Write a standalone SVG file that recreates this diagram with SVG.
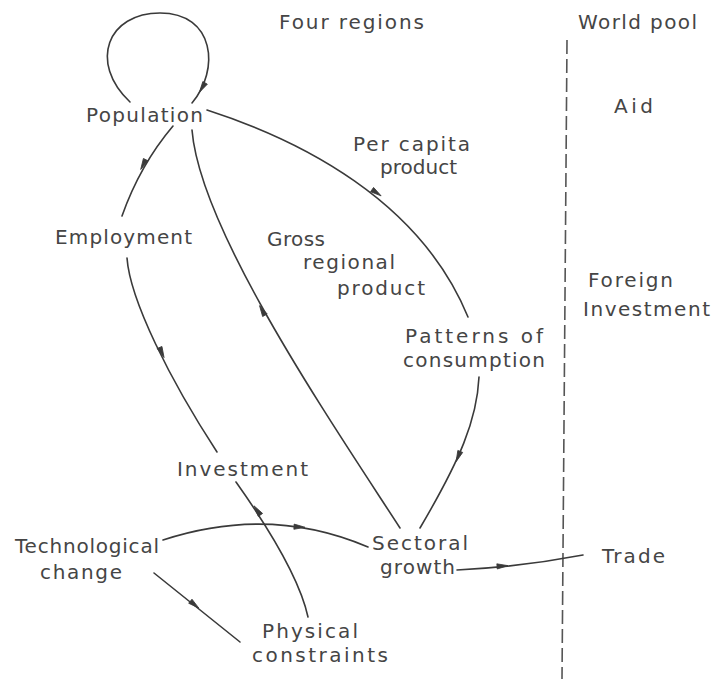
<svg xmlns="http://www.w3.org/2000/svg" width="718" height="679" viewBox="0 0 718 679">
<style>
.t{font-family:"DejaVu Sans","Liberation Sans",sans-serif;font-size:20px;fill:#454545;}
.c{fill:none;stroke:#3a3a3a;stroke-width:1.6;stroke-linecap:round;}
.a{fill:#3a3a3a;stroke:#3a3a3a;stroke-width:0.8;}
.d{fill:none;stroke:#555;stroke-width:1.6;stroke-dasharray:14 5;}
</style>
<defs>
<path id="ah" class="a" d="M-6,-2.6 L5,0 L-6,2.6 Z"/>
</defs>
<rect width="718" height="679" fill="#ffffff"/>
<g id="headers">
<text class="t" x="279" y="29" textLength="145" lengthAdjust="spacing">Four regions</text>
<text class="t" x="578" y="29" textLength="119" lengthAdjust="spacing">World pool</text>
</g>
<g id="divider">
<path class="d" d="M567,40 L562,679"/>
</g>
<g id="connectors">
<path class="c" d="M130,102 C88,62 108,13 160,13 C215,13 220,70 192,103"/>
<path class="c" d="M173,126 Q140,165 122,216"/>
<path class="c" d="M400,528 C330,420 200,230 192,130"/>
<path class="c" d="M207,110 C300,140 420,200 468,317"/>
<path class="c" d="M479,377 C477,420 460,460 420,528"/>
<path class="c" d="M127,258 C130,300 170,380 217,452"/>
<path class="c" d="M308,617 C300,580 270,530 236,482"/>
<path class="c" d="M163,540 Q270,505 368,547"/>
<path class="c" d="M154,573 L240,642"/>
<path class="c" d="M457,570 Q520,567 583,555"/>
<use href="#ah" transform="translate(202,88) rotate(121)"/>
<use href="#ah" transform="translate(143,165) rotate(117)"/>
<use href="#ah" transform="translate(262,310) rotate(241)"/>
<use href="#ah" transform="translate(377,193) rotate(35)"/>
<use href="#ah" transform="translate(458,457) rotate(112)"/>
<use href="#ah" transform="translate(162,353) rotate(66)"/>
<use href="#ah" transform="translate(257,510) rotate(235)"/>
<use href="#ah" transform="translate(300,527) rotate(3)"/>
<use href="#ah" transform="translate(195,605) rotate(39)"/>
<use href="#ah" transform="translate(503,566) rotate(-4)"/>
</g>
<g id="population"><text class="t" x="86" y="122" textLength="117" lengthAdjust="spacing">Population</text></g>
<g id="per-capita-product">
<text class="t" x="353" y="151" textLength="117" lengthAdjust="spacing">Per capita</text>
<text class="t" x="380" y="174" textLength="77" lengthAdjust="spacing">product</text>
</g>
<g id="aid"><text class="t" x="614" y="113" textLength="39" lengthAdjust="spacing">Aid</text></g>
<g id="employment"><text class="t" x="55" y="244" textLength="137" lengthAdjust="spacing">Employment</text></g>
<g id="gross-regional-product">
<text class="t" x="267" y="246" textLength="58" lengthAdjust="spacing">Gross</text>
<text class="t" x="303" y="269" textLength="92" lengthAdjust="spacing">regional</text>
<text class="t" x="337" y="295" textLength="88" lengthAdjust="spacing">product</text>
</g>
<g id="foreign-investment">
<text class="t" x="588" y="287" textLength="85" lengthAdjust="spacing">Foreign</text>
<text class="t" x="583" y="316" textLength="127" lengthAdjust="spacing">Investment</text>
</g>
<g id="patterns-of-consumption">
<text class="t" x="405" y="343" textLength="138" lengthAdjust="spacing">Patterns of</text>
<text class="t" x="403" y="367" textLength="142" lengthAdjust="spacing">consumption</text>
</g>
<g id="investment"><text class="t" x="177" y="476" textLength="131" lengthAdjust="spacing">Investment</text></g>
<g id="technological-change">
<text class="t" x="15" y="553" textLength="144" lengthAdjust="spacing">Technological</text>
<text class="t" x="40" y="579" textLength="82" lengthAdjust="spacing">change</text>
</g>
<g id="sectoral-growth">
<text class="t" x="372" y="550" textLength="96" lengthAdjust="spacing">Sectoral</text>
<text class="t" x="380" y="574" textLength="75" lengthAdjust="spacing">growth</text>
</g>
<g id="trade"><text class="t" x="602" y="563" textLength="63" lengthAdjust="spacing">Trade</text></g>
<g id="physical-constraints">
<text class="t" x="262" y="638" textLength="96" lengthAdjust="spacing">Physical</text>
<text class="t" x="252" y="662" textLength="136" lengthAdjust="spacing">constraints</text>
</g>
</svg>
